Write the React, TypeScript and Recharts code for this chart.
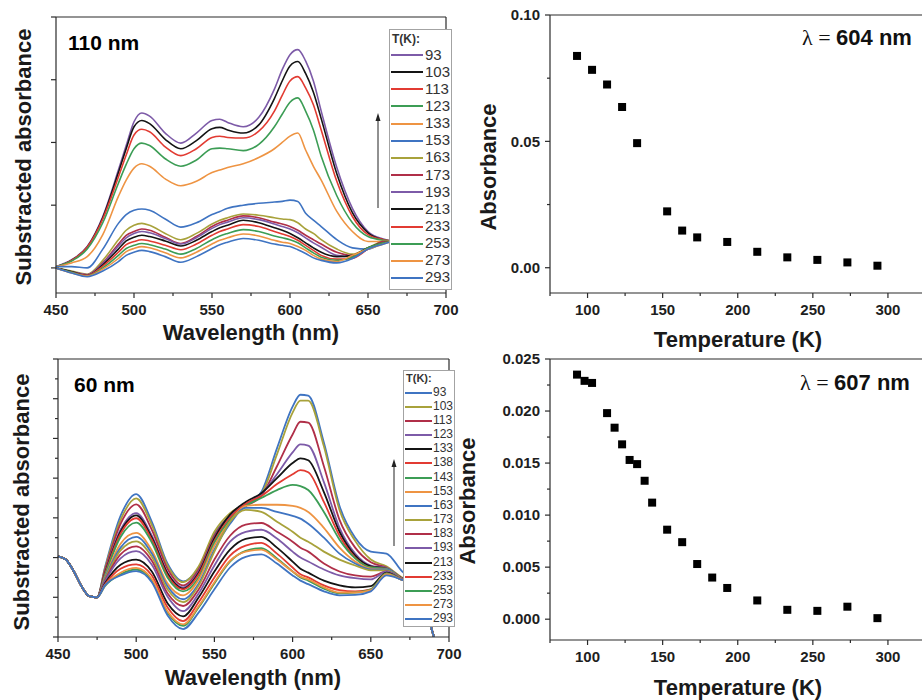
import React from "react";
import { LineChart, Line, XAxis, YAxis, ReferenceLine, ScatterChart, Scatter } from "recharts";

// ---- 110 nm film, subtracted absorbance (arb. units) ----
const WL_110 = [450, 460, 470, 480, 490, 495, 500, 505, 510, 520, 530, 540, 550, 555, 560, 570, 580, 590, 595, 600, 605, 610, 615, 620, 630, 640, 650, 660, 665];
const A93 = [0.02, 0.13, 0.34, 0.82, 1.56, 1.95, 2.33, 2.47, 2.42, 2.15, 1.99, 2.15, 2.35, 2.37, 2.32, 2.25, 2.4, 2.85, 3.16, 3.4, 3.48, 3.3, 2.98, 2.5, 1.6, 0.95, 0.58, 0.46, 0.43];
const A103 = [0.02, 0.12, 0.33, 0.8, 1.52, 1.9, 2.25, 2.35, 2.3, 2.05, 1.9, 2.03, 2.22, 2.24, 2.2, 2.15, 2.28, 2.7, 2.98, 3.22, 3.29, 3.1, 2.8, 2.38, 1.5, 0.88, 0.56, 0.45, 0.43];
const A113 = [0.02, 0.12, 0.33, 0.78, 1.45, 1.8, 2.12, 2.21, 2.17, 1.93, 1.79, 1.9, 2.08, 2.1, 2.08, 2.07, 2.18, 2.5, 2.75, 2.98, 3.05, 2.87, 2.6, 2.2, 1.38, 0.82, 0.53, 0.45, 0.43];
const A123 = [0.02, 0.11, 0.3, 0.72, 1.35, 1.65, 1.9, 1.99, 1.95, 1.74, 1.62, 1.72, 1.9, 1.91, 1.9, 1.87, 1.97, 2.25, 2.45, 2.64, 2.71, 2.5, 2.2, 1.78, 1.15, 0.72, 0.5, 0.44, 0.43];
const A133 = [0.02, 0.08, 0.18, 0.53, 1.14, 1.4, 1.59, 1.66, 1.62, 1.42, 1.31, 1.38, 1.52, 1.56, 1.6, 1.66, 1.76, 1.9, 2.0, 2.1, 2.15, 1.88, 1.62, 1.4, 0.9, 0.58, 0.42, 0.42, 0.43];
const A153 = [0.02, 0.02, 0.0, 0.3, 0.71, 0.85, 0.92, 0.94, 0.92, 0.78, 0.65, 0.72, 0.85, 0.9, 0.95, 1.0, 1.03, 1.05, 1.06, 1.08, 1.06, 0.87, 0.76, 0.66, 0.45, 0.32, 0.3, 0.4, 0.42];
const A163 = [0.0, -0.05, -0.1, 0.12, 0.45, 0.6, 0.68, 0.71, 0.68, 0.55, 0.45, 0.55, 0.7, 0.76, 0.8, 0.86, 0.84, 0.8, 0.78, 0.77, 0.72, 0.62, 0.55, 0.45, 0.3, 0.22, 0.32, 0.42, 0.42];
const A173 = [0.0, -0.06, -0.11, 0.08, 0.38, 0.52, 0.58, 0.62, 0.6, 0.49, 0.39, 0.5, 0.66, 0.72, 0.76, 0.83, 0.8, 0.73, 0.7, 0.66, 0.6, 0.52, 0.45, 0.38, 0.25, 0.2, 0.3, 0.42, 0.42];
const A193 = [0.0, -0.06, -0.11, 0.07, 0.35, 0.48, 0.55, 0.58, 0.56, 0.47, 0.38, 0.48, 0.63, 0.69, 0.73, 0.8, 0.77, 0.7, 0.66, 0.62, 0.56, 0.48, 0.4, 0.33, 0.2, 0.18, 0.3, 0.4, 0.42];
const A213 = [0.0, -0.06, -0.12, 0.05, 0.3, 0.43, 0.49, 0.52, 0.5, 0.43, 0.35, 0.44, 0.58, 0.64, 0.68, 0.76, 0.72, 0.64, 0.6, 0.55, 0.48, 0.4, 0.32, 0.25, 0.18, 0.2, 0.32, 0.4, 0.42];
const A233 = [0.0, -0.07, -0.12, 0.03, 0.25, 0.37, 0.42, 0.45, 0.43, 0.36, 0.29, 0.38, 0.52, 0.58, 0.62, 0.69, 0.66, 0.58, 0.54, 0.5, 0.44, 0.36, 0.28, 0.2, 0.14, 0.15, 0.3, 0.4, 0.42];
const A253 = [0.0, -0.07, -0.13, 0.0, 0.2, 0.31, 0.36, 0.39, 0.37, 0.3, 0.22, 0.31, 0.45, 0.51, 0.55, 0.61, 0.58, 0.51, 0.48, 0.45, 0.4, 0.32, 0.24, 0.17, 0.12, 0.17, 0.32, 0.4, 0.42];
const A273 = [0.0, -0.08, -0.13, -0.02, 0.15, 0.26, 0.31, 0.34, 0.32, 0.24, 0.16, 0.25, 0.38, 0.44, 0.48, 0.54, 0.51, 0.44, 0.41, 0.39, 0.34, 0.28, 0.2, 0.14, 0.1, 0.2, 0.3, 0.38, 0.42];
const A293 = [0.0, -0.08, -0.14, -0.05, 0.1, 0.2, 0.25, 0.28, 0.26, 0.18, 0.09, 0.18, 0.31, 0.37, 0.41, 0.47, 0.44, 0.38, 0.36, 0.34, 0.29, 0.23, 0.16, 0.12, 0.08, 0.15, 0.3, 0.38, 0.42];
const T_110 = [93, 103, 113, 123, 133, 153, 163, 173, 193, 213, 233, 253, 273, 293];
const SPECTRA_110 = [A93, A103, A113, A123, A133, A153, A163, A173, A193, A213, A233, A253, A273, A293];

// ---- 60 nm film ----
const WL_60 = [450, 455, 460, 465, 470, 475, 480, 490, 500, 510, 520, 530, 540, 550, 560, 570, 580, 590, 600, 605, 610, 620, 630, 640, 650, 660, 670, 680, 690, 695];
const C93 = [1.03, 0.95, 0.66, 0.28, 0.03, 0.0, 0.75, 2.05, 2.6, 1.9, 0.85, 0.4, 0.75, 1.6, 2.05, 2.3, 2.65, 3.75, 4.8, 5.1, 5.08, 3.9, 2.3, 1.5, 1.15, 1.1, 0.65, 0.3, -0.95, -1.6];
const C103 = [1.03, 0.95, 0.66, 0.28, 0.03, 0.0, 0.72, 1.95, 2.49, 1.82, 0.8, 0.38, 0.78, 1.65, 2.12, 2.35, 2.6, 3.6, 4.65, 4.95, 4.95, 3.8, 2.2, 1.42, 0.95, 0.78, 0.5, 0.3, -0.95, -1.6];
const C113 = [1.03, 0.95, 0.66, 0.28, 0.03, 0.0, 0.68, 1.85, 2.34, 1.7, 0.72, 0.3, 0.7, 1.55, 2.05, 2.3, 2.55, 3.3, 4.1, 4.42, 4.4, 3.3, 1.95, 1.25, 0.88, 0.75, 0.48, 0.3, -0.95, -1.6];
const C123 = [1.03, 0.95, 0.66, 0.28, 0.03, 0.0, 0.62, 1.7, 2.12, 1.55, 0.62, 0.25, 0.65, 1.5, 2.05, 2.35, 2.6, 3.1, 3.65, 3.85, 3.82, 2.9, 1.75, 1.1, 0.8, 0.74, 0.47, 0.3, -0.95, -1.6];
const C133 = [1.03, 0.95, 0.66, 0.28, 0.03, 0.0, 0.6, 1.65, 2.06, 1.5, 0.6, 0.22, 0.62, 1.48, 2.08, 2.4, 2.62, 3.0, 3.38, 3.5, 3.45, 2.65, 1.65, 1.05, 0.78, 0.72, 0.47, 0.3, -0.95, -1.6];
const C138 = [1.03, 0.95, 0.66, 0.28, 0.03, 0.0, 0.58, 1.6, 1.99, 1.45, 0.55, 0.2, 0.58, 1.42, 2.0, 2.35, 2.55, 2.85, 3.1, 3.2, 3.15, 2.4, 1.55, 1.0, 0.75, 0.72, 0.46, 0.3, -0.95, -1.6];
const C143 = [1.03, 0.95, 0.66, 0.28, 0.03, 0.0, 0.55, 1.52, 1.88, 1.38, 0.5, 0.15, 0.5, 1.38, 1.95, 2.3, 2.5, 2.7, 2.83, 2.8, 2.7, 2.15, 1.45, 0.98, 0.75, 0.72, 0.46, 0.3, -0.95, -1.6];
const C153 = [1.03, 0.95, 0.66, 0.28, 0.03, 0.0, 0.5, 1.35, 1.62, 1.18, 0.35, 0.05, 0.45, 1.3, 1.9, 2.3, 2.33, 2.33, 2.3, 2.25, 2.15, 1.75, 1.25, 0.9, 0.72, 0.7, 0.46, 0.3, -0.95, -1.6];
const C163 = [1.03, 0.95, 0.66, 0.28, 0.03, 0.0, 0.48, 1.25, 1.52, 1.1, 0.28, -0.05, 0.35, 1.2, 1.85, 2.25, 2.25, 2.15, 2.05, 1.98, 1.85, 1.5, 1.1, 0.85, 0.7, 0.7, 0.46, 0.3, -0.95, -1.6];
const C173 = [1.03, 0.95, 0.66, 0.28, 0.03, 0.0, 0.45, 1.18, 1.41, 1.02, 0.2, -0.12, 0.3, 1.15, 1.9, 2.2, 2.15, 1.9, 1.65, 1.5, 1.4, 1.15, 0.95, 0.8, 0.68, 0.68, 0.46, 0.3, -0.95, -1.6];
const C183 = [1.03, 0.95, 0.66, 0.28, 0.03, 0.0, 0.42, 1.08, 1.28, 0.92, 0.1, -0.22, 0.2, 0.95, 1.55, 1.83, 1.87, 1.65, 1.4, 1.25, 1.15, 0.85, 0.65, 0.55, 0.52, 0.65, 0.45, 0.3, -0.95, -1.6];
const C193 = [1.03, 0.95, 0.66, 0.28, 0.03, 0.0, 0.4, 0.98, 1.16, 0.82, 0.02, -0.35, 0.1, 0.8, 1.4, 1.65, 1.7, 1.48, 1.15, 1.0, 0.9, 0.7, 0.55, 0.48, 0.45, 0.65, 0.45, 0.3, -0.95, -1.6];
const C213 = [1.03, 0.95, 0.66, 0.28, 0.03, 0.0, 0.35, 0.82, 0.95, 0.65, -0.15, -0.48, 0.0, 0.65, 1.2, 1.47, 1.52, 1.25, 0.9, 0.72, 0.62, 0.42, 0.3, 0.25, 0.28, 0.62, 0.44, 0.3, -0.95, -1.6];
const C233 = [1.03, 0.95, 0.66, 0.28, 0.03, 0.0, 0.32, 0.72, 0.83, 0.55, -0.25, -0.6, -0.12, 0.5, 1.05, 1.3, 1.37, 1.1, 0.75, 0.58, 0.5, 0.3, 0.18, 0.15, 0.2, 0.6, 0.44, 0.3, -0.95, -1.6];
const C253 = [1.03, 0.95, 0.66, 0.28, 0.03, 0.0, 0.28, 0.58, 0.7, 0.43, -0.38, -0.72, -0.25, 0.35, 0.9, 1.17, 1.24, 0.98, 0.65, 0.5, 0.42, 0.22, 0.1, 0.12, 0.2, 0.6, 0.44, 0.3, -0.95, -1.6];
const C273 = [1.03, 0.95, 0.66, 0.28, 0.03, 0.0, 0.3, 0.62, 0.74, 0.46, -0.35, -0.68, -0.22, 0.38, 0.92, 1.15, 1.2, 0.95, 0.65, 0.52, 0.45, 0.25, 0.12, 0.12, 0.18, 0.58, 0.44, 0.3, -0.95, -1.6];
const C293 = [1.03, 0.95, 0.66, 0.28, 0.03, 0.0, 0.3, 0.55, 0.66, 0.38, -0.45, -0.8, -0.38, 0.2, 0.75, 1.02, 1.08, 0.85, 0.55, 0.42, 0.33, 0.15, 0.05, 0.06, 0.15, 0.55, 0.44, 0.3, -0.95, -1.6];
const T_60 = [93, 103, 113, 123, 133, 138, 143, 153, 163, 173, 183, 193, 213, 233, 253, 273, 293];
const SPECTRA_60 = [C93, C103, C113, C123, C133, C138, C143, C153, C163, C173, C183, C193, C213, C233, C253, C273, C293];

// ---- absorbance at the band maximum vs temperature ----
const T_604 = [93, 103, 113, 123, 133, 153, 163, 173, 193, 213, 233, 253, 273, 293];
const ABS_604 = [0.0838, 0.0783, 0.0725, 0.0636, 0.0493, 0.0223, 0.0147, 0.012, 0.0102, 0.0063, 0.0041, 0.0031, 0.0021, 0.0008];
const T_607 = [93, 98, 103, 113, 118, 123, 128, 133, 138, 143, 153, 163, 173, 183, 193, 213, 233, 253, 273, 293];
const ABS_607 = [0.0235, 0.0229, 0.0227, 0.0198, 0.0184, 0.0168, 0.0153, 0.0149, 0.0133, 0.0112, 0.0086, 0.0074, 0.0053, 0.004, 0.003, 0.0018, 0.0009, 0.0008, 0.0012, 0.0001];

// ---- ticks ----
const WL_TICKS = [450, 475, 500, 525, 550, 575, 600, 625, 650, 675, 700];
const TEMP_TICKS = [75, 100, 125, 150, 175, 200, 225, 250, 275, 300, 325];
const Y_TICKS_110 = [0, 1, 2, 3, 4];
const Y_TICKS_60 = [-1, -0.5, 0, 0.5, 1, 1.5, 2, 2.5, 3, 3.5, 4, 4.5, 5, 5.5, 6];
const ABS_TICKS_604 = [0, 0.025, 0.05, 0.075, 0.1];
const ABS_TICKS_607 = [0, 0.0025, 0.005, 0.0075, 0.01, 0.0125, 0.015, 0.0175, 0.02, 0.0225, 0.025];

const BLUE = "#3f74c2";
const OLIVE = "#a8a23b";
const WINE = "#b02f48";
const PURPLE = "#7d5ba8";
const BLACK = "#141414";
const RED = "#e23b32";
const GREEN = "#3c9d55";
const ORANGE = "#ee9443";
const COLORS_110 = [PURPLE, BLACK, RED, GREEN, ORANGE, BLUE, OLIVE, WINE, PURPLE, BLACK, RED, GREEN, ORANGE, BLUE];
const COLORS_60 = [BLUE, OLIVE, WINE, PURPLE, BLACK, RED, GREEN, ORANGE, BLUE, OLIVE, WINE, PURPLE, BLACK, RED, GREEN, ORANGE, BLUE];

const AXIS = "#2a2a2a";
const SANS = '"Liberation Sans", Arial, Helvetica, sans-serif';
const SERIF = '"Liberation Serif", "Times New Roman", serif';

function toRows(wl: number[], temps: number[], spectra: number[][]) {
  return wl.map((w, i) => {
    const row: Record<string, number> = { wl: w };
    temps.forEach((t, k) => {
      row["t" + t] = spectra[k][i];
    });
    return row;
  });
}

const isMultiple = (step: number) => (v: number) => Math.abs(v / step - Math.round(v / step)) < 1e-6;

// axis ticks drawn by hand so minor ticks can be shorter and unlabelled
function makeTick(side: "bottom" | "left", major: (v: number) => boolean, fmt?: (v: number) => string) {
  return (p: any) => {
    const v = p.payload.value;
    const isMajor = major(v);
    const len = isMajor ? 5 : 3;
    const text = isMajor && fmt ? fmt(v) : null;
    if (side === "bottom") {
      return (
        <g>
          <line x1={p.x} x2={p.x} y1={p.y} y2={p.y + len} stroke={AXIS} strokeWidth={1.2} />
          {text && (
            <text x={p.x} y={p.y + 22} textAnchor="middle" fill="#1e1e1e" style={{ fontFamily: SANS, fontSize: 15, fontWeight: 700 }}>
              {text}
            </text>
          )}
        </g>
      );
    }
    return (
      <g>
        <line x1={p.x} x2={p.x - len} y1={p.y} y2={p.y} stroke={AXIS} strokeWidth={1.2} />
        {text && (
          <text x={p.x - 10} y={p.y + 5.3} textAnchor="end" fill="#1e1e1e" style={{ fontFamily: SANS, fontSize: 15, fontWeight: 700 }}>
            {text}
          </text>
        )}
      </g>
    );
  };
}

const square = (p: any) => <rect x={p.cx - 4} y={p.cy - 4} width={8} height={8} fill="#000" />;

function Title({ x, y, text, rotate }: { x: number; y: number; text: string; rotate?: boolean }) {
  return (
    <div
      style={{
        position: "absolute",
        left: x,
        top: y,
        transform: `translate(-50%, -50%)${rotate ? " rotate(-90deg)" : ""}`,
        whiteSpace: "nowrap",
        fontFamily: SANS,
        fontWeight: 700,
        fontSize: 22,
        lineHeight: 1,
        color: "#1a1a1a",
      }}
    >
      {text}
    </div>
  );
}

function TempLegend(props: {
  left: number;
  top: number;
  width: number;
  height: number;
  temps: number[];
  colors: string[];
  titleY: number;
  firstY: number;
  step: number;
  lineW: number;
  textX: number;
  fontSize: number;
  titleSize: number;
}) {
  const { left, top, width, height, temps, colors, titleY, firstY, step, lineW, textX, fontSize, titleSize } = props;
  return (
    <div
      style={{
        position: "absolute",
        left,
        top,
        width,
        height,
        boxSizing: "border-box",
        border: "1px solid #a3a3a3",
        background: "#fff",
        fontFamily: SANS,
        color: "#333",
      }}
    >
      <div style={{ position: "absolute", left: 2, top: titleY - titleSize / 2 - 1, fontSize: titleSize, fontWeight: 700, lineHeight: 1 }}>
        T(K):
      </div>
      {temps.map((t, i) => {
        const cy = firstY + i * step;
        return (
          <div key={t}>
            <div style={{ position: "absolute", left: 1, top: cy - 1, width: lineW, height: 2, background: colors[i] }} />
            <div style={{ position: "absolute", left: textX, top: cy - fontSize / 2 - 1, fontSize, lineHeight: 1 }}>{t}</div>
          </div>
        );
      })}
    </div>
  );
}

function Spectra(props: {
  left: number;
  top: number;
  height: number;
  margin: { top: number; right: number; bottom: number; left: number };
  yWidth: number;
  xHeight: number;
  rows: Record<string, number>[];
  temps: number[];
  colors: string[];
  yDomain: [number, number];
  yTicks: number[];
  stroke: number;
}) {
  const { left, top, height, margin, yWidth, xHeight, rows, temps, colors, yDomain, yTicks, stroke } = props;
  return (
    <div style={{ position: "absolute", left, top }}>
      <LineChart width={470} height={height} data={rows} margin={margin}>
        <XAxis
          dataKey="wl"
          type="number"
          domain={[450, 700]}
          ticks={WL_TICKS}
          interval={0}
          height={xHeight}
          tickSize={0}
          tickMargin={0}
          tickLine={false}
          axisLine={{ stroke: AXIS, strokeWidth: 1.2 }}
          tick={makeTick("bottom", isMultiple(50), (v) => String(v))}
        />
        <YAxis
          type="number"
          domain={yDomain}
          allowDataOverflow
          ticks={yTicks}
          interval={0}
          width={yWidth}
          tickSize={0}
          tickMargin={0}
          tickLine={false}
          axisLine={{ stroke: AXIS, strokeWidth: 1.2 }}
          tick={makeTick("left", isMultiple(1))}
        />
        <ReferenceLine y={yDomain[1]} stroke={AXIS} strokeWidth={1.2} />
        <ReferenceLine x={700} stroke={AXIS} strokeWidth={1.2} />
        {temps.map((t, i) => (
          <Line
            key={t}
            dataKey={"t" + t}
            type="monotone"
            stroke={colors[i]}
            strokeWidth={stroke}
            dot={false}
            isAnimationActive={false}
          />
        ))}
      </LineChart>
    </div>
  );
}

function TempScatter(props: {
  top: number;
  height: number;
  marginTop: number;
  xHeight: number;
  temps: number[];
  values: number[];
  yDomain: [number, number];
  yTicks: number[];
  majorStep: number;
  digits: number;
}) {
  const { top, height, marginTop, xHeight, temps, values, yDomain, yTicks, majorStep, digits } = props;
  const pts = temps.map((t, i) => ({ t, a: values[i] }));
  return (
    <div style={{ position: "absolute", left: 470, top }}>
      <ScatterChart width={470} height={height} margin={{ top: marginTop, right: 7, bottom: 0, left: 0 }}>
        <XAxis
          dataKey="t"
          type="number"
          domain={[75, 330]}
          ticks={TEMP_TICKS}
          interval={0}
          height={xHeight}
          tickSize={0}
          tickMargin={0}
          tickLine={false}
          axisLine={{ stroke: AXIS, strokeWidth: 1.2 }}
          tick={makeTick("bottom", isMultiple(50), (v) => String(v))}
        />
        <YAxis
          dataKey="a"
          type="number"
          domain={yDomain}
          ticks={yTicks}
          interval={0}
          width={80}
          tickSize={0}
          tickMargin={0}
          tickLine={false}
          axisLine={{ stroke: AXIS, strokeWidth: 1.2 }}
          tick={makeTick("left", isMultiple(majorStep), (v) => v.toFixed(digits))}
        />
        <ReferenceLine y={yDomain[1]} stroke={AXIS} strokeWidth={1.2} />
        <Scatter data={pts} shape={square} isAnimationActive={false} />
      </ScatterChart>
    </div>
  );
}

function Lambda({ x, y, nm }: { x: number; y: number; nm: number }) {
  return (
    <div
      style={{
        position: "absolute",
        left: x,
        top: y,
        transform: "translateY(-50%)",
        whiteSpace: "nowrap",
        fontSize: 22,
        lineHeight: 1,
        color: "#111",
      }}
    >
      <span style={{ fontFamily: SERIF }}>λ = </span>
      <span style={{ fontFamily: SANS, fontWeight: 700 }}>{nm} nm</span>
    </div>
  );
}

export default function App() {
  const rows110 = toRows(WL_110, T_110, SPECTRA_110);
  const rows60 = toRows(WL_60, T_60, SPECTRA_60);

  return (
    <div style={{ position: "absolute", left: 0, top: 0, width: 922, height: 700, overflow: "hidden", background: "#fff" }}>
      <Spectra
        left={0}
        top={0}
        height={320}
        margin={{ top: 17, right: 24, bottom: 0, left: 0 }}
        yWidth={56}
        xHeight={27}
        rows={rows110}
        temps={T_110}
        colors={COLORS_110}
        yDomain={[-0.4, 4]}
        yTicks={Y_TICKS_110}
        stroke={1.6}
      />
      <Spectra
        left={0}
        top={340}
        height={330}
        margin={{ top: 19, right: 21, bottom: 0, left: 0 }}
        yWidth={58}
        xHeight={33}
        rows={rows60}
        temps={T_60}
        colors={COLORS_60}
        yDomain={[-1, 6]}
        yTicks={Y_TICKS_60}
        stroke={1.8}
      />
      <TempScatter
        top={4}
        height={320}
        marginTop={11}
        xHeight={31}
        temps={T_604}
        values={ABS_604}
        yDomain={[-0.01, 0.1]}
        yTicks={ABS_TICKS_604}
        majorStep={0.05}
        digits={2}
      />
      <TempScatter
        top={340}
        height={330}
        marginTop={19}
        xHeight={30}
        temps={T_607}
        values={ABS_607}
        yDomain={[-0.002, 0.025]}
        yTicks={ABS_TICKS_607}
        majorStep={0.005}
        digits={3}
      />

      <TempLegend
        left={389}
        top={29}
        width={63}
        height={261}
        temps={T_110}
        colors={COLORS_110}
        titleY={10}
        firstY={25}
        step={17.15}
        lineW={32}
        textX={35}
        fontSize={15}
        titleSize={12}
      />
      <TempLegend
        left={403}
        top={370}
        width={52}
        height={257}
        temps={T_60}
        colors={COLORS_60}
        titleY={8}
        firstY={21.5}
        step={14.17}
        lineW={27}
        textX={29}
        fontSize={12}
        titleSize={11}
      />

      <svg style={{ position: "absolute", left: 0, top: 0, pointerEvents: "none" }} width={922} height={700}>
        <line x1={378} x2={378} y1={208} y2={119} stroke="#222" strokeWidth={1} />
        <path d="M375.5,121 L378,113 L380.5,121 Z" fill="#222" />
        <line x1={394} x2={394} y1={546} y2={465} stroke="#222" strokeWidth={1} />
        <path d="M391.5,467 L394,459 L396.5,467 Z" fill="#222" />
      </svg>

      <div style={{ position: "absolute", left: 68, top: 42, transform: "translateY(-50%)", fontFamily: SANS, fontWeight: 700, fontSize: 21, lineHeight: 1 }}>
        110 nm
      </div>
      <div style={{ position: "absolute", left: 74, top: 384, transform: "translateY(-50%)", fontFamily: SANS, fontWeight: 700, fontSize: 21, lineHeight: 1 }}>
        60 nm
      </div>
      <Lambda x={802} y={38} nm={604} />
      <Lambda x={800} y={383} nm={607} />

      <Title x={24} y={157} text="Substracted absorbance" rotate />
      <Title x={251} y={333} text="Wavelength (nm)" />
      <Title x={22} y={502} text="Substracted absorbance" rotate />
      <Title x={253} y={678} text="Wavelength (nm)" />
      <Title x={489} y={167} text="Absorbance" rotate />
      <Title x={738} y={340} text="Temperature (K)" />
      <Title x={468} y={501} text="Absorbance" rotate />
      <Title x={738} y={688} text="Temperature (K)" />
    </div>
  );
}
